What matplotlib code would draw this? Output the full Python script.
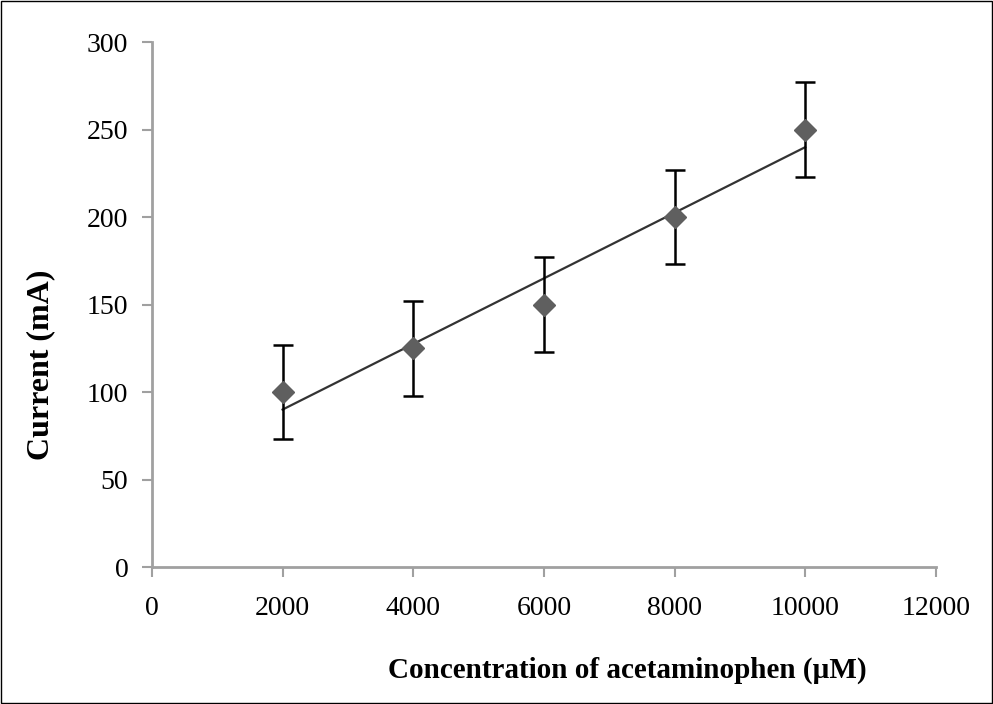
import numpy as np
import matplotlib
matplotlib.use("Agg")
import matplotlib.pyplot as plt
from matplotlib.patches import Rectangle

# data
conc = [2000, 4000, 6000, 8000, 10000]
current = [100, 125, 150, 200, 250]
err = [27, 27, 27, 27, 27]
xticks = [0, 2000, 4000, 6000, 8000, 10000, 12000]
yticks = [0, 50, 100, 150, 200, 250, 300]

plt.rcParams['font.family'] = ['Liberation Serif', 'DejaVu Serif']

fig = plt.figure(figsize=(9.93, 7.04), dpi=100)
ax = fig.add_axes([0.153, 0.1946, 0.7894, 0.7454])

# linear trend line
slope, icpt = np.polyfit(conc, current, 1)
fx = np.array([conc[0], conc[-1]])
ax.plot(fx, slope * fx + icpt, color='#333333', lw=1.6, zorder=2)

ax.errorbar(conc, current, yerr=err, fmt='none', ecolor='black',
            elinewidth=1.8, capsize=7, capthick=1.8, zorder=3)
ax.plot(conc, current, 'D', color='#5f5f5f', markersize=11, zorder=4)

ax.set_xlim(0, 12000)
ax.set_ylim(0, 300)
ax.set_xticks(xticks)
ax.set_yticks(yticks)
ax.tick_params(axis='both', direction='out', length=7, width=1.5,
               color='#a0a0a0', labelsize=20, pad=10)
ax.tick_params(axis='x', pad=14)
for s in ['top', 'right']:
    ax.spines[s].set_visible(False)
for s in ['left', 'bottom']:
    ax.spines[s].set_color('#a0a0a0')
    ax.spines[s].set_linewidth(2)

ax.set_xlabel('Concentration of acetaminophen (µM)', fontsize=21,
              fontweight='bold')
ax.xaxis.set_label_coords(0.606, -0.17)
ax.set_ylabel('Current (mA)', fontsize=23, fontweight='bold')
ax.yaxis.set_label_coords(-0.123, 0.385)

fig.patches.append(Rectangle((0.001, 0.001), 0.998, 0.998, transform=fig.transFigure,
                             fill=False, edgecolor='black', lw=1))

fig.savefig('out.png', dpi=100)
